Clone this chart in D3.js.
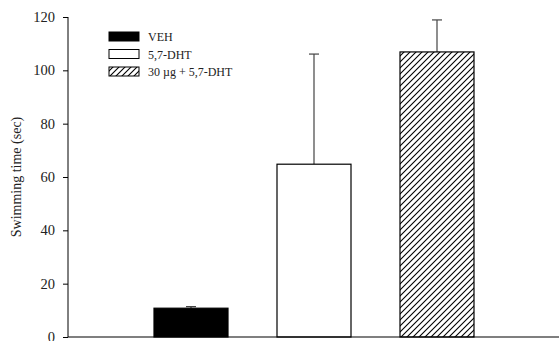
<!DOCTYPE html>
<html><head><meta charset="utf-8">
<script src="https://cdn.jsdelivr.net/npm/d3@7"></script>
<style>body{margin:0;background:#fff}svg{display:block}</style>
</head><body>
<svg id="c" width="559" height="341"></svg>
<script>
const categories = ["VEH", "5,7-DHT", "30 µg + 5,7-DHT"];
const means = [10.8, 64.8, 106.9];
const errors = [0.6, 41.3, 12.0];
const yTicks = [0, 20, 40, 60, 80, 100, 120];
const fills = ["black", "white", "hatch"];

const svg = d3.select("#c");
const font = "'Liberation Serif','Times New Roman',serif";
const defs = svg.append("defs");
const pat = defs.append("pattern").attr("id","hatch").attr("patternUnits","userSpaceOnUse")
  .attr("width",6).attr("height",6);
pat.append("rect").attr("width",6).attr("height",6).attr("fill","white");
pat.append("path").attr("d","M-1,7 L7,-1 M-4,4 L4,-4 M2,10 L10,2").attr("stroke","black").attr("stroke-width",1.1);

const x = d3.scaleLinear().domain([0, 4]).range([68, 560]);
const y = d3.scaleLinear().domain([0, 120]).range([337, 17]);
const bw = 74;

const fillOf = f => f === "hatch" ? "url(#hatch)" : f;

// error bars
svg.selectAll("line.err").data(means).enter().append("line")
  .attr("x1",(d,i)=>x(i+1)).attr("x2",(d,i)=>x(i+1))
  .attr("y1",d=>y(d)).attr("y2",(d,i)=>y(d+errors[i]))
  .attr("stroke","#444").attr("stroke-width",1.2);
svg.selectAll("line.cap").data(means).enter().append("line")
  .attr("x1",(d,i)=>x(i+1)-5).attr("x2",(d,i)=>x(i+1)+5)
  .attr("y1",(d,i)=>y(d+errors[i])).attr("y2",(d,i)=>y(d+errors[i]))
  .attr("stroke","#444").attr("stroke-width",1.2);

// bars
svg.selectAll("rect.bar").data(means).enter().append("rect")
  .attr("x",(d,i)=>x(i+1)-bw/2).attr("width",bw)
  .attr("y",d=>y(d)).attr("height",d=>y(0)-y(d))
  .attr("fill",(d,i)=>fillOf(fills[i])).attr("stroke","black").attr("stroke-width",1.2);

// axes
const yAxis = d3.axisLeft(y).tickValues(yTicks).tickSize(5).tickPadding(8);
const gy = svg.append("g").attr("transform","translate(68,0)").call(yAxis);
gy.select(".domain").attr("stroke","black").attr("d","M0,17V337");
gy.selectAll(".tick line").attr("stroke","black");
gy.selectAll(".tick text").attr("font-family",font).attr("font-size",14.5).attr("fill","#222");

svg.append("line").attr("x1",68).attr("x2",559).attr("y1",337).attr("y2",337)
  .attr("stroke","black").attr("stroke-width",1.2);

svg.append("text").attr("transform","translate(21,177) rotate(-90)")
  .attr("text-anchor","middle").attr("font-family",font).attr("font-size",14).attr("fill","#222")
  .text("Swimming time (sec)");

// legend
const lg = svg.append("g");
categories.forEach((c,i)=>{
  const yy = 32 + i*17.5;
  lg.append("rect").attr("x",109).attr("y",yy).attr("width",30).attr("height",9)
    .attr("fill",fillOf(fills[i])).attr("stroke","black").attr("stroke-width",1);
  lg.append("text").attr("x",148).attr("y",yy+9).attr("font-family",font)
    .attr("font-size",12).attr("fill","#222").text(c);
});
</script>
</body></html>
